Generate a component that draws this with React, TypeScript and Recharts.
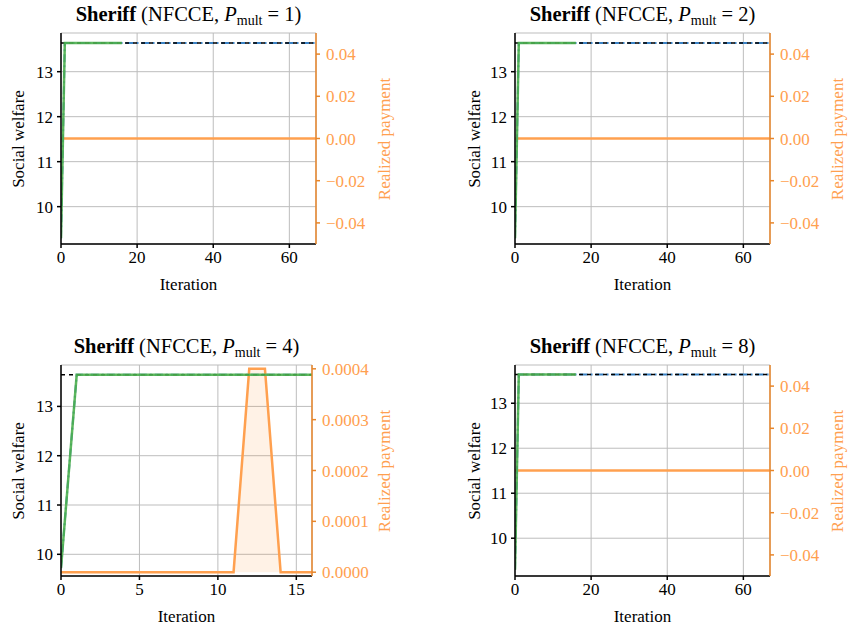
import {
  Area,
  CartesianGrid,
  ComposedChart,
  Line,
  ReferenceLine,
  XAxis,
  YAxis,
} from 'recharts'

const FONT = '"Liberation Serif", "Times New Roman", serif'
const ORANGE = '#ffa04f'
const ORANGE_SPINE = '#e8862a'
const BLUE = '#3b82c4'
const GREEN = '#4caf4c'
const GRID = '#bdbdbd'

// optimal social welfare (black dashed reference)
const optimumWelfare = 13.64

// P_mult = 1
const iterP1 = [0, 1, 16, 67]
const blueP1 = [9.3, 13.64, 13.64, 13.64]
const greenP1 = [9.3, 13.64, 13.64, null]
const paymentP1 = [0, 0, 0, 0]

// P_mult = 2
const iterP2 = [0, 1, 16, 67]
const blueP2 = [9.3, 13.64, 13.64, 13.64]
const greenP2 = [9.3, 13.64, 13.64, null]
const paymentP2 = [0, 0, 0, 0]

// P_mult = 4
const iterP4 = [0, 1, 11, 12, 13, 14, 16]
const blueP4 = [9.72, 13.64, 13.64, 13.64, 13.64, 13.64, 13.64]
const greenP4 = [9.72, 13.64, 13.64, 13.64, 13.64, 13.64, 13.64]
const paymentP4 = [0, 0, 0, 0.0004, 0.0004, 0, 0]

// P_mult = 8
const iterP8 = [0, 1, 16, 67]
const blueP8 = [9.3, 13.64, 13.64, 13.64]
const greenP8 = [9.3, 13.64, 13.64, null]
const paymentP8 = [0, 0, 0, 0]

const longXTicks = [0, 20, 40, 60]
const shortXTicks = [0, 5, 10, 15]
const welfareTicks = [10, 11, 12, 13]
const paymentTicks = [-0.04, -0.02, 0, 0.02, 0.04]
const smallPaymentTicks = [0, 0.0001, 0.0002, 0.0003, 0.0004]

type Row = {
  iteration: number
  blue: number | null
  green: number | null
  payment: number | null
}

function buildRows(
  iters: number[],
  blue: (number | null)[],
  green: (number | null)[],
  payment: (number | null)[],
): Row[] {
  return iters.map((iteration, i) => ({
    iteration,
    blue: blue[i],
    green: green[i],
    payment: payment[i],
  }))
}

interface PanelProps {
  pmult: number
  rows: Row[]
  plot: { left: number; right: number; top: number; bottom: number }
  xDomain: [number, number]
  xTicks: number[]
  welfareDomain: [number, number]
  payDomain: [number, number]
  payTicks: number[]
  payDigits: number
  rightLabelX: number
  leftLabelX: number
}

const LEFT_W = 50
const RIGHT_W = 80
const TOP_PAD = 10
const X_AXIS_H = 40

const fmtPay = (digits: number) => (v: number) => {
  const s = Math.abs(v).toFixed(digits)
  return v < -1e-12 ? `\u2212${s}` : s
}

function Panel({
  pmult,
  rows,
  plot,
  xDomain,
  xTicks,
  welfareDomain,
  payDomain,
  payTicks,
  payDigits,
  rightLabelX,
  leftLabelX,
}: PanelProps) {
  const plotW = plot.right - plot.left
  const plotH = plot.bottom - plot.top
  const cx = (plot.left + plot.right) / 2
  const cy = (plot.top + plot.bottom) / 2
  const tickStyle = { fill: '#000', fontSize: 17, fontFamily: FONT }

  return (
    <>
      <div
        style={{
          position: 'absolute',
          left: cx - 200,
          top: plot.top - 31,
          width: 400,
          textAlign: 'center',
          fontSize: 20.5,
          lineHeight: '24px',
          whiteSpace: 'nowrap',
        }}
      >
        <b>Sheriff</b> (NFCCE, <i>P</i>
        <span style={{ fontSize: 14, position: 'relative', top: 4 }}>mult</span>{' '}
        = {pmult})
      </div>

      <div style={{ position: 'absolute', left: plot.left - LEFT_W, top: plot.top - TOP_PAD }}>
        <ComposedChart
          width={LEFT_W + plotW + RIGHT_W}
          height={TOP_PAD + plotH + X_AXIS_H}
          data={rows}
          margin={{ top: TOP_PAD, right: 0, bottom: 0, left: 0 }}
        >
          <CartesianGrid stroke={GRID} strokeWidth={1} yAxisId="left" />
          <XAxis
            dataKey="iteration"
            type="number"
            domain={xDomain}
            ticks={xTicks}
            allowDataOverflow
            height={X_AXIS_H}
            stroke="#000"
            strokeWidth={1.5}
            tickSize={4}
            tickMargin={3}
            tick={tickStyle}
          />
          <XAxis
            xAxisId="top"
            orientation="top"
            dataKey="iteration"
            type="number"
            domain={xDomain}
            allowDataOverflow
            height={0}
            tick={false}
            tickLine={false}
            stroke="#000"
            strokeWidth={1.5}
          />
          <YAxis
            yAxisId="left"
            type="number"
            domain={welfareDomain}
            ticks={welfareTicks}
            allowDataOverflow
            width={LEFT_W}
            stroke="#000"
            strokeWidth={1.5}
            tickSize={4}
            tickMargin={4}
            tick={tickStyle}
          />
          <YAxis
            yAxisId="right"
            orientation="right"
            type="number"
            domain={payDomain}
            ticks={payTicks}
            allowDataOverflow
            width={RIGHT_W}
            stroke={ORANGE_SPINE}
            strokeWidth={1.5}
            tickSize={4}
            tickMargin={6}
            tick={{ ...tickStyle, fill: ORANGE, textAnchor: 'start' }}
            tickFormatter={fmtPay(payDigits)}
          />
          <Area
            yAxisId="right"
            dataKey="payment"
            type="linear"
            baseValue={0}
            stroke={ORANGE}
            strokeWidth={2.5}
            fill="#ff7f0e"
            fillOpacity={0.1}
            isAnimationActive={false}
            dot={false}
            activeDot={false}
          />
          <Line
            yAxisId="left"
            dataKey="blue"
            type="linear"
            stroke={BLUE}
            strokeWidth={2}
            strokeDasharray="8 3 2 3"
            dot={false}
            activeDot={false}
            connectNulls
            isAnimationActive={false}
          />
          <ReferenceLine
            yAxisId="left"
            y={optimumWelfare}
            stroke="#000"
            strokeWidth={1.5}
            strokeDasharray="4 4"
          />
          <Line
            yAxisId="left"
            dataKey="green"
            type="linear"
            stroke={GREEN}
            strokeWidth={2.5}
            strokeOpacity={0.9}
            dot={false}
            activeDot={false}
            isAnimationActive={false}
          />
        </ComposedChart>
      </div>

      <div
        style={{
          position: 'absolute',
          left: leftLabelX,
          top: cy,
          transform: 'translate(-50%, -50%) rotate(-90deg)',
          fontSize: 17,
          whiteSpace: 'nowrap',
        }}
      >
        Social welfare
      </div>
      <div
        style={{
          position: 'absolute',
          left: rightLabelX,
          top: cy,
          transform: 'translate(-50%, -50%) rotate(-90deg)',
          fontSize: 17,
          color: ORANGE,
          whiteSpace: 'nowrap',
        }}
      >
        Realized payment
      </div>
      <div
        style={{
          position: 'absolute',
          left: cx,
          top: plot.bottom + 41,
          transform: 'translate(-50%, -50%)',
          fontSize: 17,
          whiteSpace: 'nowrap',
        }}
      >
        Iteration
      </div>
    </>
  )
}

export default function App() {
  return (
    <div
      style={{
        position: 'absolute',
        left: 0,
        top: 0,
        width: 852,
        height: 627,
        background: '#fff',
        fontFamily: FONT,
        color: '#000',
      }}
    >
      <Panel
        pmult={1}
        rows={buildRows(iterP1, blueP1, greenP1, paymentP1)}
        plot={{ left: 61, right: 316, top: 33, bottom: 244 }}
        xDomain={[0, 67]}
        xTicks={longXTicks}
        welfareDomain={[9.17, 13.86]}
        payDomain={[-0.05, 0.05]}
        payTicks={paymentTicks}
        payDigits={2}
        leftLabelX={19}
        rightLabelX={385}
      />
      <Panel
        pmult={2}
        rows={buildRows(iterP2, blueP2, greenP2, paymentP2)}
        plot={{ left: 515, right: 770, top: 33, bottom: 244 }}
        xDomain={[0, 67]}
        xTicks={longXTicks}
        welfareDomain={[9.17, 13.86]}
        payDomain={[-0.05, 0.05]}
        payTicks={paymentTicks}
        payDigits={2}
        leftLabelX={475}
        rightLabelX={838}
      />
      <Panel
        pmult={4}
        rows={buildRows(iterP4, blueP4, greenP4, paymentP4)}
        plot={{ left: 61, right: 312, top: 365, bottom: 576 }}
        xDomain={[0, 16]}
        xTicks={shortXTicks}
        welfareDomain={[9.56, 13.84]}
        payDomain={[-0.0000075, 0.0004075]}
        payTicks={smallPaymentTicks}
        payDigits={4}
        leftLabelX={19}
        rightLabelX={385}
      />
      <Panel
        pmult={8}
        rows={buildRows(iterP8, blueP8, greenP8, paymentP8)}
        plot={{ left: 515, right: 770, top: 365, bottom: 576 }}
        xDomain={[0, 67]}
        xTicks={longXTicks}
        welfareDomain={[9.16, 13.85]}
        payDomain={[-0.05, 0.05]}
        payTicks={paymentTicks}
        payDigits={2}
        leftLabelX={475}
        rightLabelX={838}
      />
    </div>
  )
}
